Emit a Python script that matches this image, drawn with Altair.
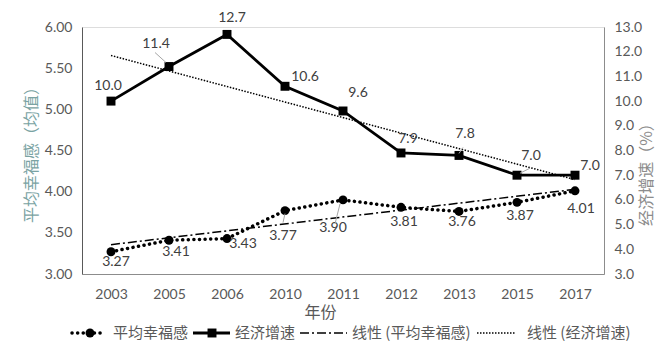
import altair as alt
import pandas as pd

years = ["2003", "2005", "2006", "2010", "2011", "2012", "2013", "2015", "2017"]
happiness = [3.27, 3.41, 3.43, 3.77, 3.90, 3.81, 3.76, 3.87, 4.01]
growth = [10.0, 11.4, 12.7, 10.6, 9.6, 7.9, 7.8, 7.0, 7.0]

# label offsets (pixels) for data labels
hap_off = [(5, 10), (7, 12), (16, 5), (-2, 25), (-10, 28), (3, 15), (3, 11), (3, 14), (6, 18)]
gro_off = [(-3, -15), (-13, -23), (5, -16), (20, -9), (15, -18), (7, -14), (6, -21), (14, -19), (15, -9)]
# leader lines: (series, index, x-offset start, y-offset start, x-offset end, y-offset end)
leaders = [("gro", 1, -14, -14, -3, -4), ("gro", 6, 4, -8, 0, -2), ("gro", 7, 13, -7, 3, -2),
           ("hap", 3, -2, 12, 0, 3), ("hap", 4, -8, 24, -3, 4)]

df = pd.DataFrame({
    "idx": list(range(len(years))),
    "year": years,
    "hap": happiness,
    "gro": growth,
})
df["hap_lbl"] = [f"{v:.2f}" for v in happiness]
df["gro_lbl"] = [f"{v:.1f}" for v in growth]

FONT = "Lato, Noto Sans CJK SC, sans-serif"
CJK = "Noto Sans CJK SC, sans-serif"
LBL = "#404040"
AX = "#595959"

label_expr = "[" + ",".join(f"'{y}'" for y in years) + "][datum.value]"
xenc = alt.X("idx:Q",
             scale=alt.Scale(domain=[-0.5, len(years) - 0.5], nice=False, zero=False),
             axis=alt.Axis(values=list(range(len(years))), labelExpr=label_expr, grid=False,
                           ticks=False, domainColor="#8c8c8c", labelColor=AX, labelFont=FONT,
                           labelFontSize=14, labelPadding=13, title="年份", titleFont=CJK,
                           titleFontSize=16, titleFontWeight="normal", titleColor=AX,
                           titleX=222, titleY=38, titleBaseline="middle", titleAnchor="start"))

base = alt.Chart(df)

yh = alt.Y("hap:Q", scale=alt.Scale(domain=[3, 6], nice=False, zero=False),
           axis=alt.Axis(values=[3, 3.5, 4, 4.5, 5, 5.5, 6], format=".2f", grid=False, ticks=False,
                         domainColor=AX, labelColor=AX, labelFont=FONT, labelFontSize=14,
                         labelPadding=10, title="平均幸福感（均值）", titleFont=CJK, titleFontSize=16,
                         titleFontWeight="normal", titleColor="#7aa3a3", titlePadding=5))
yg = alt.Y("gro:Q", scale=alt.Scale(domain=[3, 13], nice=False, zero=False),
           axis=alt.Axis(values=list(range(3, 14)), format=".1f", grid=False, ticks=False,
                         domainColor="#8c8c8c", labelColor=AX, labelFont=FONT, labelFontSize=14,
                         labelPadding=10, title="经济增速（%）", titleFont=CJK, titleFontSize=16,
                         titleFontWeight="normal", titleColor="#8c8c8c",
                         titleAngle=-90, titleX=42, titleY=143, titleAlign="center",
                         titleBaseline="middle", orient="right"))

hap_trend = base.transform_regression("idx", "hap", extent=[0, len(years) - 1]).mark_line(
    color="black", strokeWidth=1.5, strokeDash=[9, 3, 2, 3]).encode(x=xenc, y=yh)
hap_line = base.mark_line(color="black", strokeWidth=3.5, strokeDash=[0.1, 5.5],
                          strokeCap="round").encode(x=xenc, y=yh)
hap_pts = base.mark_point(shape="circle", filled=True, color="black", opacity=1,
                          size=80).encode(x=xenc, y=yh)
hap_texts = []
for i, (dx, dy) in enumerate(hap_off):
    hap_texts.append(base.transform_filter(alt.datum.idx == i).mark_text(
        dx=dx, dy=dy, font=FONT, fontSize=14, color=LBL, baseline="middle").encode(
        x=xenc, y=yh, text="hap_lbl:N"))

gro_trend = base.transform_regression("idx", "gro", extent=[0, len(years) - 1]).mark_line(
    color="black", strokeWidth=1.5, strokeDash=[1.5, 1.5]).encode(x=xenc, y=yg)
gro_line = base.mark_line(color="black", strokeWidth=2.8).encode(x=xenc, y=yg)
gro_pts = base.mark_point(shape="square", filled=True, color="black", opacity=1,
                          size=80).encode(x=xenc, y=yg)
gro_texts = []
for i, (dx, dy) in enumerate(gro_off):
    gro_texts.append(base.transform_filter(alt.datum.idx == i).mark_text(
        dx=dx, dy=dy, font=FONT, fontSize=14, color=LBL, baseline="middle").encode(
        x=xenc, y=yg, text="gro_lbl:N"))

hap_lead, gro_lead = [], []
for ser, i, x1, y1, x2, y2 in leaders:
    yy = yh if ser == "hap" else yg
    r = base.transform_filter(alt.datum.idx == i).mark_rule(
        color="#a6a6a6", strokeWidth=1, xOffset=x1, yOffset=y1, x2Offset=x2, y2Offset=y2
    ).encode(x=xenc, y=yy, x2="idx:Q", y2=f"{ser}:Q")
    (hap_lead if ser == "hap" else gro_lead).append(r)

hap_layer = alt.layer(hap_trend, hap_line, hap_pts, *hap_texts, *hap_lead)
gro_layer = alt.layer(gro_trend, gro_line, gro_pts, *gro_texts, *gro_lead)

# custom legend below the plot (pixel coordinates relative to plot area)
one = alt.Chart(pd.DataFrame({"a": [0]}))
LY = 306
legend_items = [
    # (x1, x2, marker x, marker shape, dash, width, cap, text x, text)
    (-10, 20, 8, "circle", [0.1, 5.5], 3.5, "round", 31, "平均幸福感"),
    (111, 148, 130, "square", None, 2.8, "butt", 153, "经济增速"),
    (218, 265, None, None, [9, 3, 2, 3], 1.5, "butt", 270, "线性 (平均幸福感)"),
    (395, 433, None, None, [1.5, 1.5], 1.5, "butt", 445, "线性 (经济增速)"),
]
legend_layers = []
for x1, x2, mx, shp, dash, w, cap, tx, txt in legend_items:
    kw = dict(color="black", strokeWidth=w, strokeCap=cap)
    if dash is not None:
        kw["strokeDash"] = dash
    legend_layers.append(one.mark_rule(**kw).encode(
        x=alt.value(x1), x2=alt.value(x2), y=alt.value(LY)))
    if mx is not None:
        legend_layers.append(one.mark_point(shape=shp, filled=True, color="black", opacity=1,
                                            size=80).encode(x=alt.value(mx), y=alt.value(LY)))
    legend_layers.append(one.mark_text(align="left", baseline="middle", font=CJK, fontSize=15,
                                       color=AX).encode(x=alt.value(tx), y=alt.value(LY),
                                                        text=alt.value(txt)))

chart = alt.layer(hap_layer, gro_layer, *legend_layers).resolve_scale(
    y="independent"
).properties(
    width=522, height=247,
    autosize=alt.AutoSizeParams(type="none"),
    padding={"left": 82, "top": 27, "right": 67, "bottom": 78},
).configure_view(stroke=None).configure(background="white")

chart.save("out.html", embed_options={"renderer": "svg", "actions": False})
